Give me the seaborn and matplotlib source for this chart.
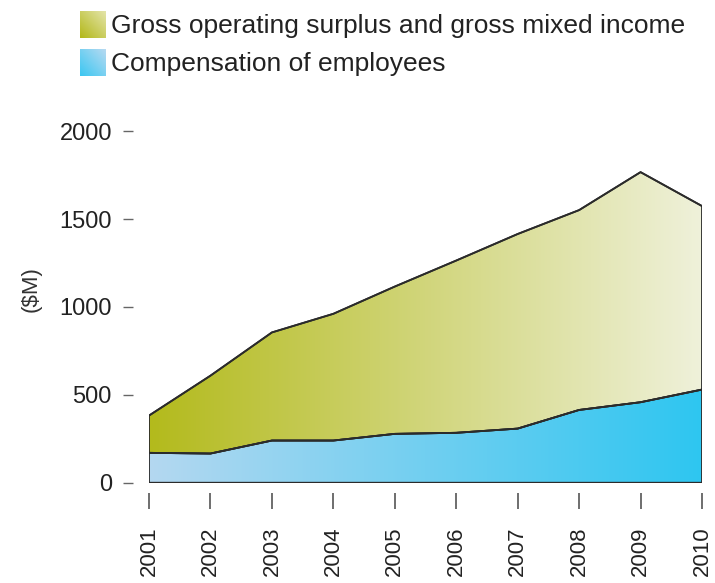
import numpy as np
import pandas as pd
import matplotlib
matplotlib.use("Agg")
import matplotlib.pyplot as plt
from matplotlib.colors import LinearSegmentedColormap
import seaborn as sns

# data ($M)
years = [2001, 2002, 2003, 2004, 2005, 2006, 2007, 2008, 2009, 2010]
compensation = [170, 166, 240, 240, 278, 284, 308, 414, 458, 530]
surplus = [212, 443, 615, 721, 838, 980, 1107, 1137, 1309, 1044]

labels = ["Gross operating surplus and gross mixed income",
          "Compensation of employees"]
y_ticks = [0, 500, 1000, 1500, 2000]

df = pd.DataFrame({"year": years, "comp": compensation, "surplus": surplus})
df["total"] = df["comp"] + df["surplus"]

sns.set_theme(style="white")
plt.rcParams["font.family"] = ["Liberation Sans", "DejaVu Sans"]

W, H = 715, 583
fig = plt.figure(figsize=(W / 100, H / 100), dpi=100)
ax = fig.add_axes([149 / W, 0.172, 553 / W, 0.603])

blue_cmap = LinearSegmentedColormap.from_list("b", ["#b4d8f0", "#2ec6f1"])
olive_cmap = LinearSegmentedColormap.from_list("o", ["#b3ba1c", "#eff1da"])
grad = np.linspace(0, 1, 256).reshape(1, -1)
x0, x1 = years[0], years[-1]


def grad_area(lower, upper, cmap):
    poly = ax.fill_between(df["year"], lower, upper, facecolor="none",
                           edgecolor="#2b2b2b", linewidth=1.3, zorder=3)
    img = ax.imshow(grad, cmap=cmap, aspect="auto", extent=[x0, x1, 0, 2000],
                    origin="lower", zorder=2, interpolation="bicubic")
    img.set_clip_path(poly.get_paths()[0], transform=ax.transData)


grad_area(0, df["comp"], blue_cmap)
grad_area(df["comp"], df["total"], olive_cmap)
sns.lineplot(data=df, x="year", y="comp", ax=ax, color="#2b2b2b", lw=1.3, zorder=4)
sns.lineplot(data=df, x="year", y="total", ax=ax, color="#2b2b2b", lw=1.3, zorder=4)

ax.set_xlim(x0, x1)
ax.set_ylim(0, 2000)
for s in ax.spines.values():
    s.set_visible(False)
ax.spines["left"].set_position(("outward", 11.5))
ax.spines["bottom"].set_position(("outward", 7.2))

ax.set_yticks(y_ticks)
ax.set_xticks(years)
ax.set_xticklabels([str(y) for y in years], rotation=90)
ax.tick_params(axis="y", left=True, length=7.2, width=1, color="#666666",
               labelsize=17, pad=8, labelcolor="#222222")
ax.tick_params(axis="x", bottom=True, length=11.5, width=1.2, color="#555555",
               labelsize=16, pad=13, labelcolor="#222222")
ax.set_xlabel("")
ax.set_ylabel("($M)", fontsize=16, color="#333333")
ax.yaxis.set_label_coords(-107 / 553, 0.55)

# legend: gradient swatches + labels
sw_cmaps = [LinearSegmentedColormap.from_list("ol", ["#b3b81a", "#e3e4a8"]),
            LinearSegmentedColormap.from_list("bl", ["#3cc7f1", "#b8daf1"])]
xx, yy = np.meshgrid(np.linspace(0, 1, 32), np.linspace(0, 1, 32))
diag = 0.5 * (xx + yy)
for i, (lab, cm) in enumerate(zip(labels, sw_cmaps)):
    top = 11 + i * 38
    sw = fig.add_axes([80 / W, 1 - (top + 27) / H, 26 / W, 27 / H])
    sw.imshow(diag, cmap=cm, origin="lower", aspect="auto")
    sw.axis("off")
    fig.text(111 / W, 1 - (top + 15.5 - i) / H, lab, fontsize=19,
             color="#222222", va="center", ha="left")

fig.savefig("out.png", dpi=100)
